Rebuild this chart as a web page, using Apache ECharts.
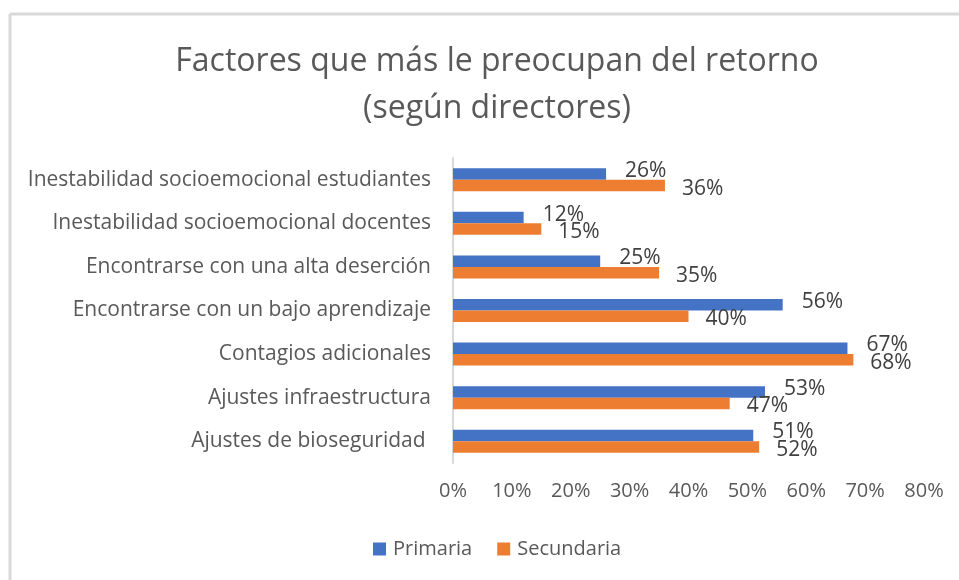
<!DOCTYPE html>
<html>
<head>
<meta charset="utf-8">
<script src="https://cdn.jsdelivr.net/npm/echarts@6/dist/echarts.min.js"></script>
<style>
  body { margin: 0; background: #fff; }
  #main { width: 959px; height: 580px; }
</style>
</head>
<body>
<div id="main"></div>
<script>
// categorias (de abajo hacia arriba, como en el eje de Excel)
var categorias = [
  'Ajustes de bioseguridad ',
  'Ajustes infraestructura',
  'Contagios adicionales',
  'Encontrarse con un bajo aprendizaje',
  'Encontrarse con una alta deserción',
  'Inestabilidad socioemocional docentes',
  'Inestabilidad socioemocional estudiantes'
]
var primaria = [51, 53, 67, 56, 25, 12, 26]
var secundaria = [52, 47, 68, 40, 35, 15, 36]
var ticks = [0, 10, 20, 30, 40, 50, 60, 70, 80]

var fuente = 'Open Sans'
var chart = echarts.init(document.getElementById('main'), null, { renderer: 'canvas' })

var option = {
  backgroundColor: '#fff',
  animation: false,
  title: {
    text: 'Factores que más le preocupan del retorno\n(según directores)',
    left: 492,
    textAlign: 'center',
    top: 33,
    textStyle: {
      fontFamily: fuente,
      fontSize: 32,
      fontWeight: 'normal',
      color: '#595959',
      lineHeight: 47
    }
  },
  // marco gris del area del grafico
  graphic: [
    { type: 'line', shape: { x1: 10, y1: 14, x2: 959, y2: 14 }, style: { stroke: '#d9d9d9', lineWidth: 3 } },
    { type: 'line', shape: { x1: 10, y1: 14, x2: 10, y2: 580 }, style: { stroke: '#d9d9d9', lineWidth: 3 } }
  ],
  legend: {
    data: ['Primaria', 'Secundaria'],
    top: 534,
    left: 368,
    itemWidth: 13,
    itemHeight: 13,
    itemGap: 25,
    icon: 'rect',
    textStyle: { fontFamily: fuente, fontSize: 20, color: '#595959', padding: [0, 0, 0, 2] }
  },
  grid: {
    left: 453,
    right: 35,
    top: 158,
    bottom: 117,
    containLabel: false
  },
  xAxis: {
    type: 'value',
    min: 0,
    max: 80,
    interval: 10,
    axisLine: { show: false },
    axisTick: { show: false },
    splitLine: { show: false },
    axisLabel: {
      margin: 18,
      fontFamily: fuente,
      fontSize: 20,
      color: '#595959',
      formatter: function (v) { return ticks.indexOf(v) >= 0 ? v + '%' : '' }
    }
  },
  yAxis: {
    type: 'category',
    data: categorias,
    axisLine: { show: true, lineStyle: { color: '#d9d9d9', width: 2 } },
    axisTick: { show: false },
    axisLabel: {
      margin: 22,
      fontFamily: fuente,
      fontSize: 21,
      color: '#595959'
    }
  },
  series: [
    {
      name: 'Primaria',
      type: 'bar',
      data: primaria,
      barWidth: 11.5,
      barGap: '0%',
      itemStyle: { color: '#4472c4' },
      label: {
        show: true,
        position: 'right',
        distance: 19,
        offset: [0, -3],
        formatter: '{c}%',
        fontFamily: fuente,
        fontSize: 21,
        color: '#404040'
      }
    },
    {
      name: 'Secundaria',
      type: 'bar',
      data: secundaria,
      barWidth: 11.5,
      barGap: '0%',
      itemStyle: { color: '#ed7d31' },
      label: {
        show: true,
        position: 'right',
        distance: 17,
        offset: [0, 3],
        formatter: '{c}%',
        fontFamily: fuente,
        fontSize: 21,
        color: '#404040'
      }
    }
  ]
}
chart.setOption(option)
</script>
</body>
</html>
